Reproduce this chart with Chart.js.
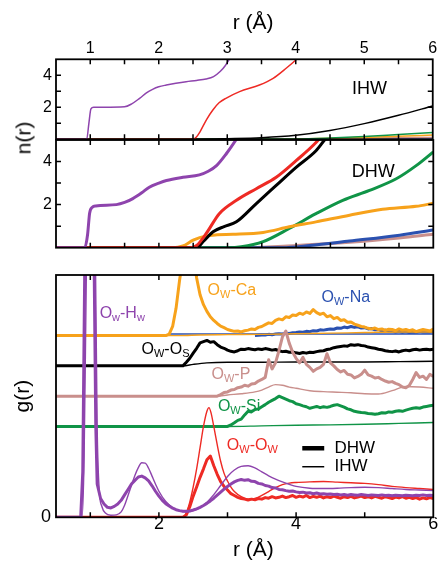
<!DOCTYPE html>
<html lang="en">
<head>
  <meta charset="UTF-8" />
  <title>n(r) and g(r) of water</title>
  <script src="https://cdn.jsdelivr.net/npm/chart.js"></script>
  <style>
    body { margin: 0; background: #fff; }
    .wrap { position: relative; width: 440px; height: 561px; overflow: hidden; font-family: 'Liberation Sans', Arial, sans-serif; }
    .wrap canvas { position: absolute; left: 0; top: 0; }
    .ylabel { position: absolute; left: 23px; top: 138px; font-size: 21px; line-height: 1; white-space: nowrap; transform: translate(-50%, -50%) rotate(-90deg); }
  </style>
</head>
<body>
<div class="wrap">
  <canvas id="ihwChart" width="440" height="561"></canvas>
  <canvas id="dhwChart" width="440" height="561"></canvas>
  <canvas id="grChart" width="440" height="561"></canvas>
  <div class="ylabel">n(r)</div>
</div>

<script>
  // tick labels
  const topTicks = [1, 2, 3, 4, 5, 6];
  const bottomTicks = [2, 4, 6];
  const nTicks = [2, 4];
  const gTicks = [0];
  const halfSteps = [1, 1.5, 2, 2.5, 3, 3.5, 4, 4.5, 5, 5.5];

  // n(r), IHW (top panel)
  const ihwHwR = [0.5, 0.9, 0.95, 0.98, 1.01, 1.05, 1.2, 1.5, 1.6, 1.72, 1.82, 1.91, 2.0, 2.11, 2.25, 2.4, 2.55, 2.69, 2.8, 2.9, 2.97, 3.03, 3.1];
  const ihwHwN = [0, 0, 0.05, 1.0, 1.9, 2.0, 2.0, 2.03, 2.2, 2.56, 2.9, 3.12, 3.28, 3.39, 3.5, 3.6, 3.68, 3.77, 3.92, 4.25, 4.6, 5.0, 5.5];
  const ihwOwR = [0.5, 2.5, 2.55, 2.6, 2.7, 2.79, 2.88, 2.98, 3.18, 3.47, 3.67, 3.86, 4.0, 4.1];
  const ihwOwN = [0, 0, 0.15, 0.45, 1.25, 1.83, 2.28, 2.56, 2.98, 3.39, 3.81, 4.44, 4.96, 5.4];
  const ihwOsR = [0.5, 2.6, 3.0, 3.5, 4.0, 4.5, 5.0, 5.5, 6.0];
  const ihwOsN = [0, 0.01, 0.04, 0.1, 0.25, 0.55, 0.98, 1.5, 2.08];
  const ihwSiR = [0.5, 4.0, 4.5, 5.0, 5.5, 6.0];
  const ihwSiN = [0, 0.02, 0.08, 0.18, 0.3, 0.42];
  const ihwCaR = [0.5, 3.5, 4.5, 5.0, 5.5, 6.0];
  const ihwCaN = [0, 0, 0.06, 0.12, 0.19, 0.27];
  const ihwPR = [0.5, 3.5, 4.5, 5.5, 6.0];
  const ihwPN = [0, 0, 0.04, 0.09, 0.12];
  const ihwNaR = [0.5, 4.0, 5.0, 6.0];
  const ihwNaN = [0, 0, 0.04, 0.08];

  // n(r), DHW (middle panel)
  const dhwHwR = [0.5, 0.92, 0.96, 0.99, 1.03, 1.08, 1.38, 1.5, 1.62, 1.75, 1.86, 2.0, 2.11, 2.35, 2.59, 2.72, 2.84, 2.98, 3.13, 3.2];
  const dhwHwN = [0, 0, 0.6, 1.6, 1.88, 1.94, 2.0, 2.1, 2.28, 2.55, 2.81, 3.0, 3.12, 3.27, 3.38, 3.55, 3.81, 4.35, 5.04, 5.4];
  const dhwOwR = [0.5, 2.45, 2.55, 2.69, 2.88, 3.13, 3.42, 3.71, 4.0, 4.29, 4.4];
  const dhwOwN = [0, 0, 0.1, 0.66, 1.58, 2.2, 2.74, 3.27, 4.04, 4.88, 5.3];
  const dhwOsR = [0.5, 2.55, 2.65, 2.79, 2.95, 3.13, 3.42, 3.71, 4.0, 4.29, 4.44, 4.5];
  const dhwOsN = [0, 0, 0.3, 0.74, 0.98, 1.2, 2.05, 2.89, 3.73, 4.5, 5.1, 5.3];
  const dhwCaR = [0.5, 2.2, 2.35, 2.5, 2.69, 2.85, 3.08, 3.52, 3.9, 4.29, 4.78, 5.26, 5.75, 6.0];
  const dhwCaN = [0, 0, 0.08, 0.35, 0.55, 0.6, 0.62, 0.71, 0.97, 1.2, 1.51, 1.78, 1.92, 2.06];
  const dhwSiR = [0.5, 3.0, 3.2, 3.52, 3.9, 4.29, 4.68, 5.07, 5.46, 5.75, 6.0];
  const dhwSiN = [0, 0, 0.04, 0.28, 0.89, 1.58, 2.2, 2.66, 3.2, 3.81, 4.45];
  const dhwNaR = [0.5, 3.8, 4.2, 4.78, 5.51, 6.0];
  const dhwNaN = [0, 0, 0.1, 0.31, 0.58, 0.82];
  const dhwPR = [0.5, 3.3, 4.0, 4.78, 5.5, 6.0];
  const dhwPN = [0, 0, 0.1, 0.25, 0.45, 0.62];

  // g(r): offsets of the stacked curves
  const offsets = { Hw: 0, Ow: 0, Si: 3, P: 4, Os: 5, Ca: 6, Na: 6 };
  const gStep = 0.05;

  // g(r), DHW (thick): lead points, then values every gStep from the start r
  const gDhwHwLeadR = [0.5, 0.86, 0.89, 0.92, 0.99, 1.055, 1.08];
  const gDhwHwLead = [0, 0, 1.5, 8.5, 16, 8.5, 3];
  const gDhwHwStart = 1.1;
  const gDhwHw = [
    1.1, 0.62, 0.44, 0.33, 0.31, 0.36, 0.44, 0.56, 0.74, 0.92,
    1.1, 1.22, 1.33, 1.36, 1.3, 1.2, 1.04, 0.86, 0.7, 0.56,
    0.45, 0.37, 0.3, 0.25, 0.22, 0.2, 0.2, 0.21, 0.24, 0.28,
    0.33, 0.39, 0.46, 0.54, 0.63, 0.73, 0.83, 0.93, 1.02, 1.1,
    1.17, 1.22, 1.25, 1.22, 1.24, 1.19, 1.18, 1.12, 1.1, 1.05,
    1.03, 0.98, 0.97, 0.92, 0.91, 0.88, 0.86, 0.87, 0.84, 0.82,
    0.83, 0.8, 0.81, 0.78, 0.8, 0.77, 0.78, 0.76, 0.77, 0.75,
    0.76, 0.74, 0.75, 0.73, 0.75, 0.74, 0.73, 0.75, 0.74, 0.72,
    0.74, 0.73, 0.72, 0.74, 0.72, 0.73, 0.71, 0.73, 0.72, 0.71,
    0.73, 0.72, 0.71, 0.73, 0.72, 0.74, 0.72, 0.73, 0.72
  ];
  const gDhwOwLeadR = [0.5, 2.35];
  const gDhwOwLead = [0, 0];
  const gDhwOwStart = 2.4;
  const gDhwOw = [
    0.08, 0.35, 0.7, 1.0, 1.32, 1.6, 1.9, 2.02, 1.7, 1.42,
    1.18, 1.02, 0.9, 0.78, 0.72, 0.66, 0.62, 0.6, 0.57, 0.6,
    0.58, 0.62, 0.6, 0.65, 0.63, 0.68, 0.64, 0.66, 0.7, 0.65,
    0.68, 0.72, 0.66, 0.7, 0.67, 0.72, 0.65, 0.69, 0.66, 0.7,
    0.64, 0.68, 0.65, 0.7, 0.66, 0.63, 0.68, 0.65, 0.69, 0.64,
    0.67, 0.7, 0.65, 0.68, 0.64, 0.69, 0.66, 0.63, 0.68, 0.65,
    0.62, 0.67, 0.64, 0.68, 0.63, 0.66, 0.62, 0.65, 0.6, 0.64,
    0.61, 0.65, 0.62
  ];
  const gDhwCaLeadR = [0.5, 2.1];
  const gDhwCaLead = [0, 0];
  const gDhwCaStart = 2.15;
  const gDhwCa = [
    0.05, 0.3, 0.9, 1.8, 2.6, 3.2, 3.3, 2.8, 1.9, 1.35,
    1.02, 0.8, 0.62, 0.5, 0.4, 0.31, 0.26, 0.2, 0.17, 0.14,
    0.15, 0.12, 0.16, 0.18, 0.22, 0.2, 0.27, 0.3, 0.36, 0.42,
    0.4, 0.5, 0.55, 0.52, 0.62, 0.6, 0.68, 0.66, 0.74, 0.7,
    0.78, 0.73, 0.86, 0.76, 0.7, 0.74, 0.62, 0.66, 0.56, 0.6,
    0.5, 0.52, 0.44, 0.45, 0.38, 0.34, 0.3, 0.28, 0.24, 0.22,
    0.25, 0.2, 0.22, 0.17, 0.21, 0.2, 0.16, 0.22, 0.18, 0.2,
    0.16, 0.19, 0.13, 0.17, 0.2, 0.18, 0.15, 0.22
  ];
  const gDhwNaLeadR = [3.4];
  const gDhwNaLead = [0];
  const gDhwNaStart = 3.45;
  const gDhwNa = [
    0.01, 0.02, 0.02, 0.04, 0.03, 0.05, 0.06, 0.05, 0.08, 0.07,
    0.09, 0.1, 0.12, 0.11, 0.14, 0.13, 0.16, 0.15, 0.19, 0.18,
    0.2, 0.22, 0.21, 0.25, 0.24, 0.28, 0.26, 0.3, 0.27, 0.29,
    0.25, 0.26, 0.22, 0.23, 0.19, 0.2, 0.16, 0.18, 0.14, 0.15,
    0.12, 0.14, 0.11, 0.13, 0.1, 0.12, 0.11, 0.14, 0.12, 0.13,
    0.12, 0.14
  ];
  const gDhwOsLeadR = [0.5, 2.35];
  const gDhwOsLead = [0, 0];
  const gDhwOsStart = 2.4;
  const gDhwOs = [
    0.12, 0.25, 0.42, 0.58, 0.76, 0.8, 0.84, 0.78, 0.8, 0.7,
    0.62, 0.58, 0.52, 0.48, 0.46, 0.5, 0.55, 0.54, 0.57, 0.55,
    0.53, 0.56, 0.54, 0.57, 0.55, 0.52, 0.54, 0.5, 0.47, 0.48,
    0.45, 0.46, 0.43, 0.41, 0.44, 0.42, 0.45, 0.44, 0.47, 0.49,
    0.5, 0.54, 0.56, 0.6, 0.62, 0.64, 0.66, 0.65, 0.7, 0.68,
    0.7, 0.67, 0.66, 0.62, 0.6, 0.58, 0.55, 0.53, 0.5, 0.48,
    0.47, 0.49, 0.46, 0.5, 0.52, 0.5, 0.53, 0.55, 0.52, 0.54,
    0.55, 0.53, 0.55
  ];
  const gDhwPLeadR = [0.5, 2.85];
  const gDhwPLead = [0, 0];
  const gDhwPStart = 2.9;
  const gDhwP = [
    0.05, 0.12, 0.14, 0.2, 0.22, 0.28, 0.3, 0.36, 0.33, 0.4,
    0.42, 0.5, 0.55, 0.62, 1.2, 0.9, 1.1, 1.5, 1.95, 2.15,
    1.75, 1.45, 1.25, 1.1, 1.28, 1.05, 0.95, 0.82, 0.9, 0.95,
    1.05, 1.4, 1.1, 1.0, 0.88, 0.8, 0.85, 0.72, 0.7, 0.6,
    0.65, 0.72, 0.86, 0.7, 0.66, 0.6, 0.62, 0.55, 0.5, 0.46,
    0.48, 0.42, 0.38, 0.3, 0.28, 0.35, 0.55, 0.78, 0.62, 0.66,
    0.55, 0.72, 0.65
  ];
  const gDhwSiLeadR = [0.5, 3.0];
  const gDhwSiLead = [0, 0];
  const gDhwSiStart = 3.05;
  const gDhwSi = [
    0.05, 0.12, 0.2, 0.24, 0.38, 0.5, 0.48, 0.56, 0.58, 0.65,
    0.72, 0.8, 0.86, 0.92, 1.0, 0.95, 0.9, 0.85, 0.82, 0.75,
    0.72, 0.68, 0.65, 0.6, 0.63, 0.66, 0.62, 0.65, 0.63, 0.66,
    0.7, 0.72, 0.68, 0.64, 0.58, 0.55, 0.5, 0.48, 0.46, 0.45,
    0.43, 0.42, 0.4, 0.42, 0.45, 0.44, 0.48, 0.47, 0.5, 0.52,
    0.5, 0.54, 0.57, 0.6, 0.62, 0.6, 0.64, 0.66, 0.68, 0.7
  ];

  // g(r), IHW (thin)
  const gIhwHwR = [0.5, 0.88, 0.91, 0.945, 1.01, 1.075, 1.1, 1.13, 1.17, 1.22, 1.3, 1.38, 1.45, 1.5, 1.55, 1.6, 1.65, 1.7, 1.75, 1.8, 1.85, 1.9, 1.95, 2.0, 2.1, 2.2, 2.3, 2.4, 2.5, 2.6, 2.7, 2.8, 2.9, 3.0, 3.1, 3.2, 3.3, 3.4, 3.5, 3.6, 3.7, 3.8, 3.9, 4.0, 4.2, 4.4, 4.6, 4.8, 5.0, 5.2, 5.4, 5.6, 5.8, 6.0];
  const gIhwHw = [0, 0, 2, 8.5, 16, 8.5, 3, 0.9, 0.35, 0.14, 0.07, 0.08, 0.18, 0.4, 0.72, 1.05, 1.38, 1.64, 1.8, 1.79, 1.62, 1.36, 1.1, 0.86, 0.52, 0.32, 0.21, 0.18, 0.22, 0.32, 0.5, 0.75, 1.05, 1.35, 1.56, 1.68, 1.7, 1.63, 1.5, 1.37, 1.26, 1.17, 1.09, 1.02, 0.96, 0.95, 0.96, 0.98, 0.99, 0.98, 0.95, 0.92, 0.9, 0.88];
  const gIhwOwR = [0.5, 2.35, 2.4, 2.45, 2.5, 2.55, 2.6, 2.65, 2.7, 2.73, 2.76, 2.8, 2.85, 2.9, 2.95, 3.0, 3.05, 3.1, 3.2, 3.3, 3.4, 3.5, 3.6, 3.7, 3.8, 3.9, 4.0, 4.2, 4.4, 4.6, 4.8, 5.0, 5.2, 5.4, 5.6, 5.8, 6.0];
  const gIhwOw = [0, 0, 0.15, 0.5, 1.0, 1.6, 2.3, 3.0, 3.5, 3.62, 3.45, 3.0, 2.4, 1.85, 1.45, 1.2, 1.0, 0.85, 0.68, 0.6, 0.62, 0.72, 0.85, 0.98, 1.08, 1.13, 1.15, 1.17, 1.18, 1.16, 1.14, 1.12, 1.08, 1.02, 0.98, 0.95, 0.92];
  const gIhwCaR = [0.5, 2.3, 2.6, 3.0, 3.5, 4.0, 4.5, 5.0, 5.5, 6.0];
  const gIhwCa = [0, 0, 0.02, 0.03, 0.04, 0.06, 0.08, 0.1, 0.12, 0.12];
  const gIhwNaR = [2.15, 6.0];
  const gIhwNa = [0.05, 0.05];
  const gIhwOsR = [0.5, 2.35, 2.5, 2.7, 3.0, 3.5, 4.0, 4.5, 5.0, 5.5, 6.0];
  const gIhwOs = [0, 0, 0.05, 0.1, 0.12, 0.12, 0.13, 0.13, 0.13, 0.14, 0.15];
  const gIhwPR = [0.5, 2.85, 3.0, 3.2, 3.4, 3.5, 3.6, 3.7, 3.8, 3.9, 4.0, 4.2, 4.4, 4.6, 4.8, 5.0, 5.2, 5.4, 5.6, 5.8, 6.0];
  const gIhwP = [0, 0, 0.04, 0.08, 0.14, 0.2, 0.3, 0.38, 0.36, 0.3, 0.26, 0.18, 0.15, 0.13, 0.11, 0.08, 0.07, 0.18, 0.32, 0.3, 0.26];
  const gIhwSiR = [0.5, 3.0, 3.5, 4.0, 4.5, 5.0, 5.5, 6.0];
  const gIhwSi = [0, 0, 0.02, 0.04, 0.05, 0.07, 0.1, 0.13];

  const colors = { Hw: '#8e44ad', Ow: '#ee2a24', Os: '#000000', Ca: '#f7a21b', Na: '#2b51b0', P: '#c98f8c', Si: '#109447' };
  const FONT = "'Liberation Sans', Arial, sans-serif";

  Chart.defaults.font.family = FONT;
  Chart.defaults.color = '#000';

  function pairs(rs, vs, shift = 0) {
    return rs.map((r, i) => ({ x: r, y: vs[i] + shift }));
  }
  function onGrid(r0, vs, shift = 0) {
    return vs.map((v, i) => ({ x: +(r0 + i * gStep).toFixed(3), y: v + shift }));
  }
  function series(points, color, width, smooth) {
    return {
      data: points, borderColor: color, borderWidth: width, pointRadius: 0, fill: false,
      cubicInterpolationMode: smooth ? 'monotone' : 'default', tension: 0,
      borderJoinStyle: 'round'
    };
  }

  // text with one-character subscripts written as _x
  function drawRich(ctx, text, x, y, size, color) {
    ctx.fillStyle = color;
    ctx.textBaseline = 'middle';
    ctx.textAlign = 'left';
    let cx = x;
    for (let i = 0; i < text.length; i++) {
      let ch = text[i], sub = false;
      if (ch === '_') { sub = true; ch = text[++i]; }
      const s = sub ? Math.round(size * 0.7) : size;
      ctx.font = s + 'px ' + FONT;
      ctx.fillText(ch, cx, sub ? y + size * 0.28 : y);
      cx += ctx.measureText(ch).width;
    }
  }

  // box with inward ticks, plus labels and legend keys
  function frame(xTicks, yTicks, labels, keys) {
    return {
      id: 'frame',
      afterDatasetsDraw(chart) {
        const { ctx, chartArea: a } = chart;
        const x = chart.scales.x, y = chart.scales.y;
        ctx.save();
        ctx.strokeStyle = '#000';
        ctx.lineWidth = 1.8;
        ctx.strokeRect(a.left, a.top, a.right - a.left, a.bottom - a.top);
        ctx.lineWidth = 1.5;
        ctx.beginPath();
        xTicks.forEach(v => {
          const px = x.getPixelForValue(v);
          ctx.moveTo(px, a.top); ctx.lineTo(px, a.top + 5);
          ctx.moveTo(px, a.bottom); ctx.lineTo(px, a.bottom - 5);
        });
        yTicks.forEach(v => {
          const py = y.getPixelForValue(v);
          ctx.moveTo(a.left, py); ctx.lineTo(a.left + 5, py);
          ctx.moveTo(a.right, py); ctx.lineTo(a.right - 5, py);
        });
        ctx.stroke();
        keys.forEach(k => {
          ctx.beginPath();
          ctx.strokeStyle = k.color;
          ctx.lineWidth = k.width;
          ctx.moveTo(x.getPixelForValue(k.x1), y.getPixelForValue(k.y));
          ctx.lineTo(x.getPixelForValue(k.x2), y.getPixelForValue(k.y));
          ctx.stroke();
        });
        labels.forEach(n => drawRich(ctx, n.text, x.getPixelForValue(n.x), y.getPixelForValue(n.y), n.size, n.color));
        ctx.restore();
      }
    };
  }

  function baseOptions(padding, scales) {
    return {
      responsive: false,
      animation: false,
      events: [],
      layout: { autoPadding: false, padding: padding },
      plugins: { legend: { display: false }, tooltip: { enabled: false } },
      scales: scales
    };
  }

  const xBase = { type: 'linear', min: 0.5, max: 6, grid: { display: false, drawTicks: false }, border: { display: false } };
  const yBase = { type: 'linear', position: 'left', grid: { display: false, drawTicks: false }, border: { display: false } };

  // top panel: IHW n(r)
  new Chart(document.getElementById('ihwChart'), {
    type: 'line',
    data: {
      datasets: [
        series(pairs(ihwHwR, ihwHwN), colors.Hw, 1.5, true),
        series(pairs(ihwOwR, ihwOwN), colors.Ow, 1.5, true),
        series(pairs(ihwOsR, ihwOsN), colors.Os, 1.5, true),
        series(pairs(ihwSiR, ihwSiN), colors.Si, 1.5, true),
        series(pairs(ihwCaR, ihwCaN), colors.Ca, 1.5, true),
        series(pairs(ihwPR, ihwPN), colors.P, 1.5, true),
        series(pairs(ihwNaR, ihwNaN), colors.Na, 1.5, true)
      ]
    },
    options: baseOptions({ left: 0, top: 0, right: 6.7, bottom: 421.7 }, {
      x: Object.assign({}, xBase, {
        position: 'top',
        afterBuildTicks: s => { s.ticks = topTicks.map(v => ({ value: v })); },
        afterFit: s => { s.height = 59.3; },
        ticks: { font: { size: 16, lineHeight: 1 }, padding: 2.8, maxRotation: 0, autoSkip: false },
        title: { display: true, text: '   r (Å)', font: { size: 21, lineHeight: 1 }, padding: { top: 13, bottom: 0 } }
      }),
      y: Object.assign({}, yBase, {
        min: 0, max: 5,
        afterBuildTicks: s => { s.ticks = nTicks.map(v => ({ value: v })); },
        afterFit: s => { s.width = 56; },
        ticks: { font: { size: 16, lineHeight: 1 }, padding: 4 }
      })
    }),
    plugins: [frame(halfSteps, [1, 2, 3, 4], [{ text: 'IHW', x: 4.82, y: 3.14, size: 18, color: '#000' }], [])]
  });

  // middle panel: DHW n(r)
  new Chart(document.getElementById('dhwChart'), {
    type: 'line',
    data: {
      datasets: [
        series(pairs(dhwHwR, dhwHwN), colors.Hw, 3, true),
        series(pairs(dhwOwR, dhwOwN), colors.Ow, 3, true),
        series(pairs(dhwOsR, dhwOsN), colors.Os, 3, true),
        series(pairs(dhwCaR, dhwCaN), colors.Ca, 3, true),
        series(pairs(dhwSiR, dhwSiN), colors.Si, 3, true),
        series(pairs(dhwNaR, dhwNaN), colors.Na, 3, true),
        series(pairs(dhwPR, dhwPN), colors.P, 3, true)
      ]
    },
    options: baseOptions({ left: 0, top: 140, right: 6.7, bottom: 313.3 }, {
      x: Object.assign({}, xBase, { display: false }),
      y: Object.assign({}, yBase, {
        min: 0, max: 5,
        afterBuildTicks: s => { s.ticks = nTicks.map(v => ({ value: v })); },
        afterFit: s => { s.width = 56; },
        ticks: { font: { size: 16, lineHeight: 1 }, padding: 4 }
      })
    }),
    plugins: [frame(halfSteps, [1, 2, 3, 4], [{ text: 'DHW', x: 4.81, y: 3.51, size: 18, color: '#000' }], [])]
  });

  // bottom panel: g(r), stacked with offsets
  const gLabels = [
    { text: 'O_w-H_w', x: 1.136, y: 6.72, size: 16, color: colors.Hw },
    { text: 'O_W-Ca', x: 2.71, y: 7.48, size: 16, color: colors.Ca },
    { text: 'O_W-Na', x: 4.37, y: 7.25, size: 16, color: colors.Na },
    { text: 'O_W-O_S', x: 1.747, y: 5.53, size: 16, color: colors.Os },
    { text: 'O_W-P', x: 2.767, y: 4.7, size: 16, color: colors.P },
    { text: 'O_W-Si', x: 2.86, y: 3.66, size: 16, color: colors.Si },
    { text: 'O_W-O_W', x: 2.99, y: 2.36, size: 16, color: colors.Ow },
    { text: 'DHW', x: 4.56, y: 2.28, size: 17, color: '#000' },
    { text: 'IHW', x: 4.56, y: 1.67, size: 17, color: '#000' }
  ];
  const gKeys = [
    { x1: 4.09, x2: 4.41, y: 2.28, width: 4.5, color: '#000' },
    { x1: 4.09, x2: 4.41, y: 1.67, width: 1.5, color: '#000' }
  ];

  const thick = (leadR, lead, start, vals, key) =>
    pairs(leadR, lead, offsets[key]).concat(onGrid(start, vals, offsets[key]));

  // first dataset is drawn on top
  new Chart(document.getElementById('grChart'), {
    type: 'line',
    data: {
      datasets: [
        series(thick(gDhwHwLeadR, gDhwHwLead, gDhwHwStart, gDhwHw, 'Hw'), colors.Hw, 3, false),
        series(pairs(gIhwHwR, gIhwHw, offsets.Hw), colors.Hw, 1.4, true),
        series(thick(gDhwOwLeadR, gDhwOwLead, gDhwOwStart, gDhwOw, 'Ow'), colors.Ow, 3, false),
        series(pairs(gIhwOwR, gIhwOw, offsets.Ow), colors.Ow, 1.4, true),
        series(thick(gDhwSiLeadR, gDhwSiLead, gDhwSiStart, gDhwSi, 'Si'), colors.Si, 3, false),
        series(pairs(gIhwSiR, gIhwSi, offsets.Si), colors.Si, 1.4, true),
        series(thick(gDhwPLeadR, gDhwPLead, gDhwPStart, gDhwP, 'P'), colors.P, 3, false),
        series(pairs(gIhwPR, gIhwP, offsets.P), colors.P, 1.4, true),
        series(thick(gDhwOsLeadR, gDhwOsLead, gDhwOsStart, gDhwOs, 'Os'), colors.Os, 3, false),
        series(pairs(gIhwOsR, gIhwOs, offsets.Os), colors.Os, 1.4, true),
        series(thick(gDhwCaLeadR, gDhwCaLead, gDhwCaStart, gDhwCa, 'Ca'), colors.Ca, 3, false),
        series(pairs(gIhwCaR, gIhwCa, offsets.Ca), colors.Ca, 1.4, true),
        series(thick(gDhwNaLeadR, gDhwNaLead, gDhwNaStart, gDhwNa, 'Na'), colors.Na, 3, false),
        series(pairs(gIhwNaR, gIhwNa, offsets.Na), colors.Na, 1.4, true)
      ]
    },
    options: baseOptions({ left: 0, top: 275, right: 6.7, bottom: 0 }, {
      x: Object.assign({}, xBase, {
        position: 'bottom',
        afterBuildTicks: s => { s.ticks = bottomTicks.map(v => ({ value: v })); },
        afterFit: s => { s.height = 43.7; },
        ticks: { font: { size: 18, lineHeight: 1 }, padding: -1.8, maxRotation: 0, autoSkip: false },
        title: { display: true, text: '   r (Å)', font: { size: 21, lineHeight: 1 }, padding: { top: 0, bottom: 0.5 } }
      }),
      y: Object.assign({}, yBase, {
        min: 0, max: 8,
        afterBuildTicks: s => { s.ticks = gTicks.map(v => ({ value: v })); },
        afterFit: s => { s.width = 56; },
        ticks: { font: { size: 18, lineHeight: 1 }, padding: 5 },
        title: { display: true, text: 'g(r)', font: { size: 21, lineHeight: 1 }, padding: { top: 12.5, bottom: 0 } }
      })
    }),
    plugins: [frame([1, 2, 3, 4, 5], [], gLabels, gKeys)]
  });
</script>
</body>
</html>
